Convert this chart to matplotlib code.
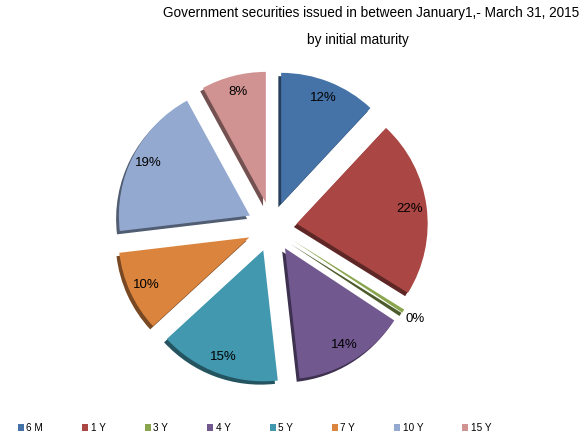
import matplotlib
matplotlib.use("Agg")
import matplotlib.pyplot as plt
import matplotlib.patheffects as pe
from matplotlib.patches import Patch
from matplotlib.colors import to_rgb
import numpy as np

plt.rcParams['font.family'] = ['Liberation Sans', 'DejaVu Sans']

# Share of securities issued, by initial maturity (%)
maturities = ["6 M", "1 Y", "3 Y", "4 Y", "5 Y", "7 Y", "10 Y", "15 Y"]
shares = [12, 22, 0.45, 14, 15, 10, 19, 8]
colors = ["#4572A7", "#AA4643", "#89A54E", "#71588F",
          "#4198AF", "#DB843D", "#93A9CF", "#D19392"]

title_line1 = "Government securities issued in between January1,- March 31, 2015"
title_line2 = "by initial maturity"

W, H = 587, 436
fig = plt.figure(figsize=(W / 100, H / 100), dpi=100)

# pie axes: one data unit = r_px pixels, centred at (cx, cy) from top-left
r_px = 131
cx, cy = 272, 227
half = 1.4
ax = fig.add_axes([(cx - half * r_px) / W, (H - cy - half * r_px) / H,
                   2 * half * r_px / W, 2 * half * r_px / H])
ax.set_aspect('equal')
ax.axis('off')


def darker(c, f=0.55):
    r, g, b = to_rgb(c)
    return (r * f, g * f, b * f)


wedges, texts, autotexts = ax.pie(
    shares, colors=colors, startangle=90, counterclock=False,
    explode=[0.19] * len(shares), radius=1.0,
    autopct=lambda p: f"{p:.0f}%", pctdistance=0.87,
    wedgeprops=dict(linewidth=0), textprops=dict(fontsize=9.5, color="black"),
    center=(0, 0), frame=False)
ax.set_xlim(-half, half)
ax.set_ylim(-half, half)

for w, c in zip(wedges, colors):
    w.set_path_effects([
        pe.SimplePatchShadow(offset=(-2.0, -2.4), shadow_rgbFace=darker(c),
                             alpha=1.0),
        pe.Normal()])

# tiny slice: put its label outside the wedge
total = sum(shares)
start = 90.0
for i, v in enumerate(shares):
    ang = start - 360.0 * v / total / 2
    start -= 360.0 * v / total
    if v / total < 0.02:
        th = np.deg2rad(ang)
        d = 1.3
        autotexts[i].set_position((d * np.cos(th), d * np.sin(th)))

fig.text(371 / W, 1 - 13 / H, title_line1, ha='center', va='center', fontsize=9.8)
fig.text(358 / W, 1 - 40 / H, title_line2, ha='center', va='center', fontsize=9.8)

handles = [Patch(facecolor=c, edgecolor='none') for c in colors]
fig.legend(handles, maturities, loc='center left', ncol=len(maturities),
           bbox_to_anchor=(18 / W, 1 - 428 / H), frameon=False, fontsize=7.2,
           handlelength=0.6, handleheight=0.6, handletextpad=0.25,
           columnspacing=3.9, borderaxespad=0, borderpad=0)

fig.savefig("out.png", dpi=100, facecolor="white")
